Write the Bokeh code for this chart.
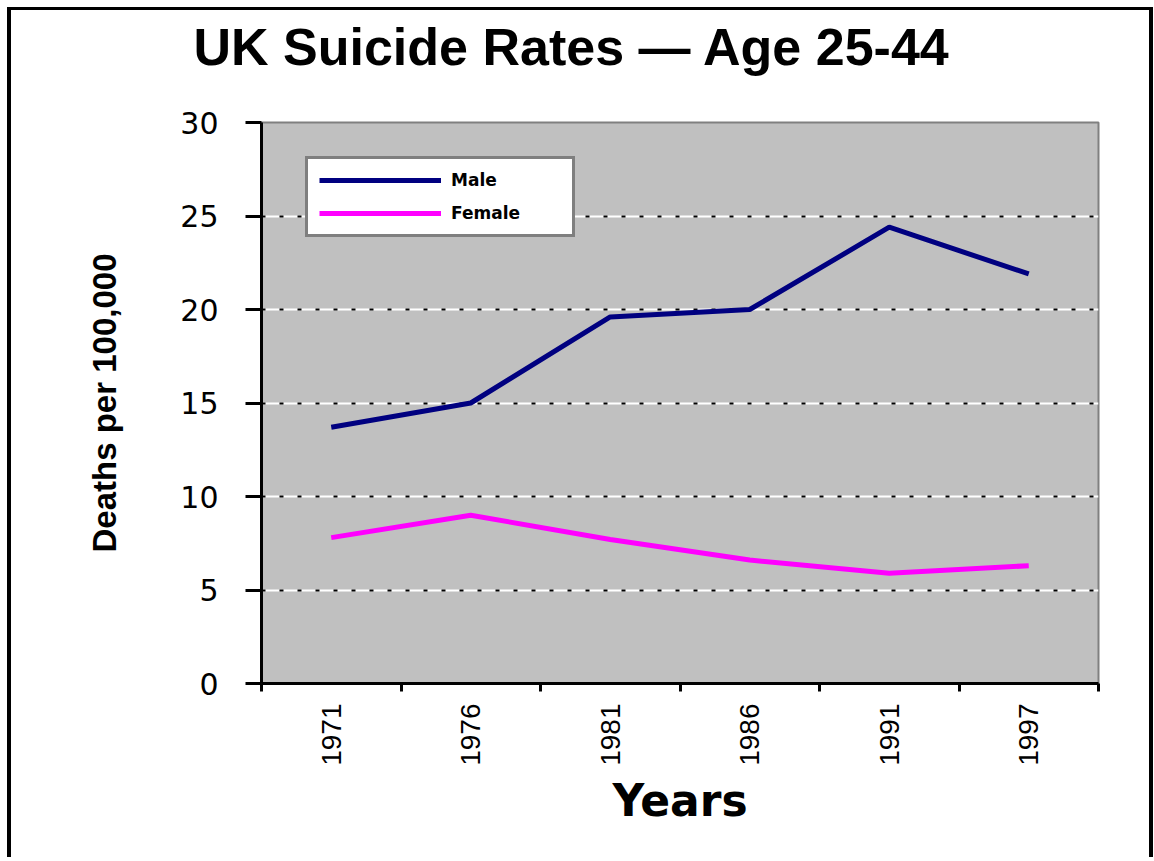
from bokeh.plotting import figure
from bokeh.models import FixedTicker, Grid, Legend, LegendItem, Range1d, Title
from bokeh.embed import file_html
from bokeh.resources import INLINE

# ---- data ----
years = ["1971", "1976", "1981", "1986", "1991", "1997"]
male = [13.7, 15.0, 19.6, 20.0, 24.4, 21.9]
female = [7.8, 9.0, 7.7, 6.6, 5.9, 6.3]
y_ticks = [0, 5, 10, 15, 20, 25, 30]
title_text = "UK Suicide Rates \u2014 Age 25-44"

xpos = [i + 0.5 for i in range(len(years))]
bounds = list(range(len(years) + 1))

p = figure(width=1146, height=850, x_range=Range1d(0, len(years)),
           y_range=Range1d(y_ticks[0], y_ticks[-1]),
           output_backend="svg", toolbar_location=None,
           min_border_left=250, min_border_right=59,
           min_border_top=112, min_border_bottom=177)
p.styles = {"overflow": "hidden",
            "margin-left": "7px", "margin-top": "7px",
            "border-left": "4px solid black", "border-top": "3px solid black",
            "border-right": "4px solid black"}
p.background_fill_color = "#C0C0C0"
p.border_fill_color = "white"
p.outline_line_color = "#808080"
p.outline_line_width = 2

# title (with an empty spacer between it and the plot area)
p.title.text = title_text
p.title.align = "left"
p.title.vertical_align = "bottom"
p.title.offset = -68
p.title.standoff = 10
p.title.text_font = "Liberation Sans"
p.title.text_font_style = "bold"
p.title.text_font_size = "52px"
p.title.text_color = "black"
spacer = Title(text=" ", text_font_size="1px", standoff=39)
p.add_layout(spacer, "above")

# grid: white line with black dots
p.xgrid.visible = False
p.ygrid.ticker = FixedTicker(ticks=y_ticks[1:-1])
p.ygrid.grid_line_color = "white"
p.ygrid.grid_line_width = 2
dots = Grid(dimension=1, ticker=FixedTicker(ticks=y_ticks[1:-1]),
            grid_line_color="black", grid_line_width=2, grid_line_dash="4 14")
p.add_layout(dots)

# lines
r_m = p.line(xpos, male, line_color="#000080", line_width=5)
r_f = p.line(xpos, female, line_color="#FF00FF", line_width=5)

# x axis
xa = p.xaxis[0]
xa.ticker = FixedTicker(ticks=xpos, minor_ticks=bounds)
xa.major_label_overrides = {xp: y for xp, y in zip(xpos, years)}
xa.major_tick_out = 0
xa.major_tick_in = 0
xa.minor_tick_out = 8
xa.minor_tick_in = 0
xa.minor_tick_line_color = "black"
xa.minor_tick_line_width = 3
xa.axis_line_color = "black"
xa.axis_line_width = 3
xa.major_label_orientation = 3.14159265 / 2
xa.major_label_standoff = 12
xa.major_label_text_font = "Liberation Sans"
xa.major_label_text_font_size = "28px"
xa.major_label_text_color = "black"
xa.axis_label = "Years"
xa.axis_label_text_font = "DejaVu Sans"
xa.axis_label_text_font_style = "bold"
xa.axis_label_text_font_size = "44px"
xa.axis_label_text_color = "black"
xa.axis_label_standoff = 6

# y axis
ya = p.yaxis[0]
ya.ticker = FixedTicker(ticks=y_ticks)
ya.major_tick_out = 16
ya.major_tick_in = 0
ya.major_tick_line_color = "black"
ya.major_tick_line_width = 3
ya.minor_tick_out = 0
ya.minor_tick_in = 0
ya.axis_line_color = "black"
ya.axis_line_width = 3
ya.major_label_standoff = 27
ya.major_label_text_font = "DejaVu Sans"
ya.major_label_text_font_size = "30px"
ya.major_label_text_color = "black"
ya.axis_label = "Deaths per 100,000"
ya.axis_label_text_font = "Liberation Sans"
ya.axis_label_text_font_style = "bold"
ya.axis_label_text_font_size = "33px"
ya.axis_label_text_color = "black"
ya.axis_label_standoff = 54

# legend
legend = Legend(items=[LegendItem(label="Male", renderers=[r_m]),
                       LegendItem(label="Female", renderers=[r_f])],
                location=(44, 446), orientation="vertical",
                padding=11, spacing=13, margin=0,
                glyph_width=122, glyph_height=16, label_height=16,
                label_width=110, label_standoff=10,
                label_text_font="DejaVu Sans", label_text_font_style="bold",
                label_text_font_size="17px", label_text_color="black",
                border_line_color="black", border_line_width=3,
                background_fill_color="white", background_fill_alpha=1)
p.add_layout(legend)

open("out.html", "w").write(file_html(p, INLINE))
